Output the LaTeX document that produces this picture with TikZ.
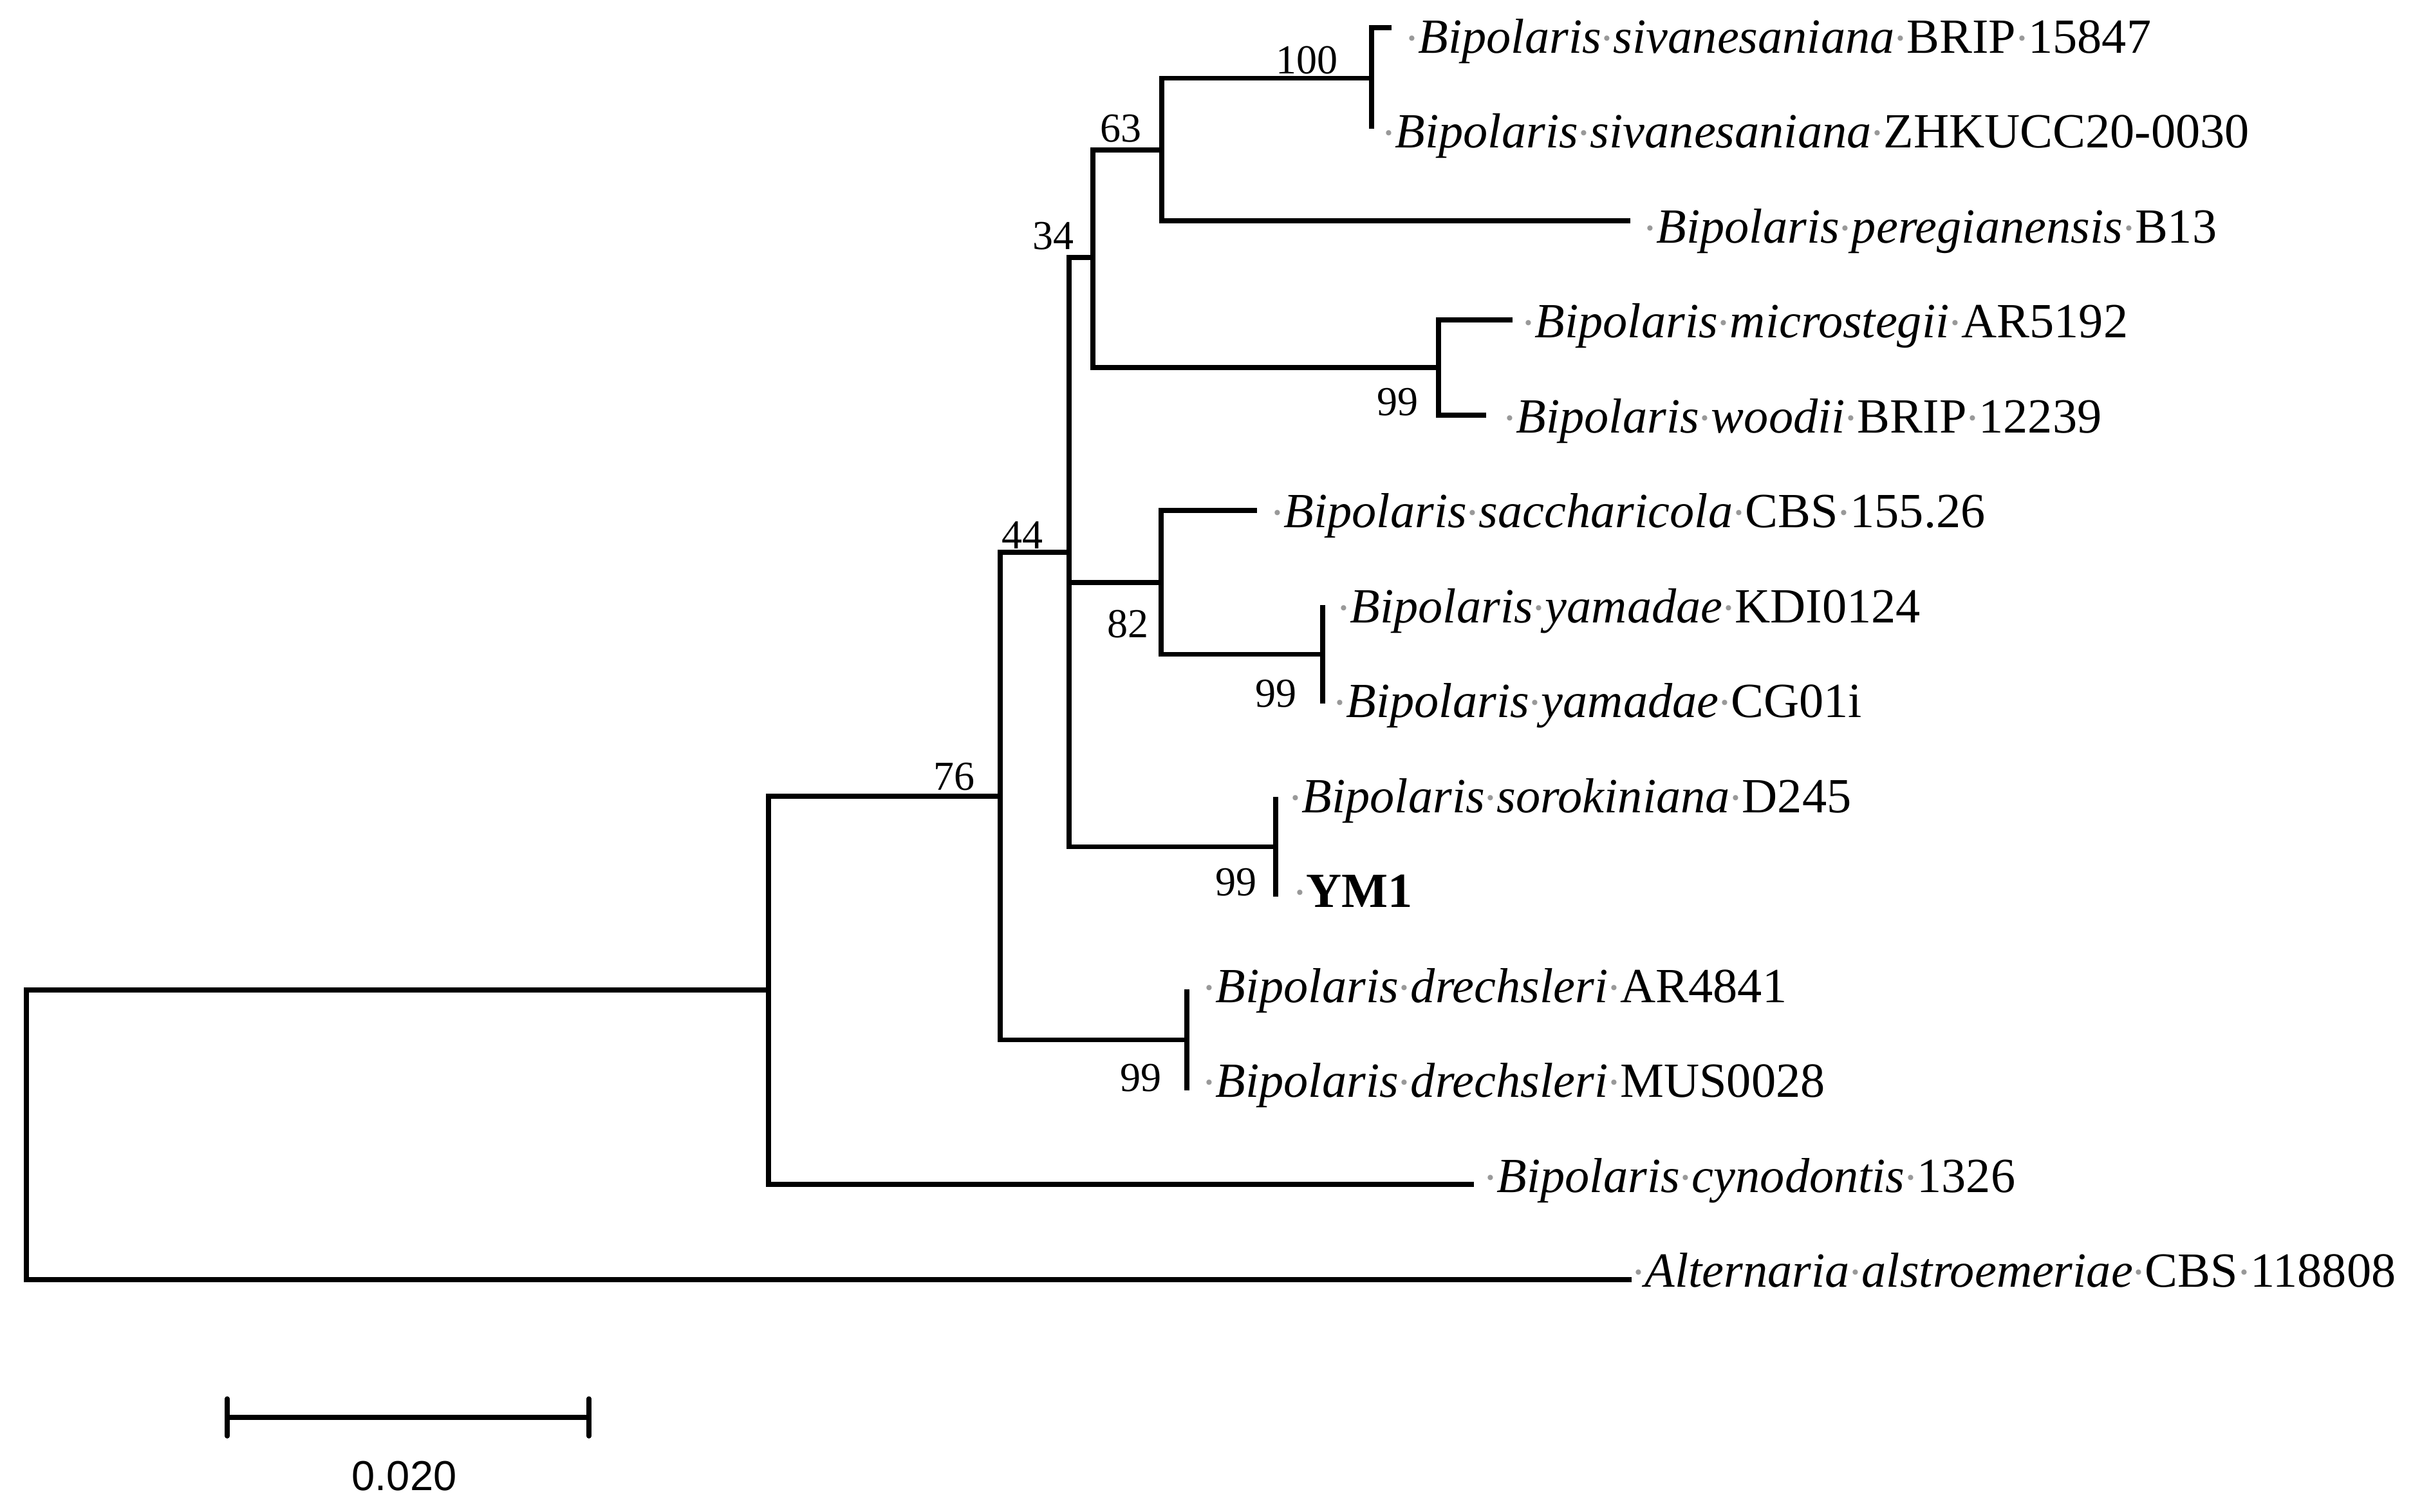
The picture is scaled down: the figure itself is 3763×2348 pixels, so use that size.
\documentclass[tikz,border=0pt]{standalone}
\usepackage{fontspec}
\usepackage{graphicx}
\setmainfont{Liberation Serif}
\newfontfamily\scalefont{Liberation Sans}
\newcommand{\gd}{\makebox[0.25em][c]{\textcolor{black!40}{\scalebox{0.9}{·}}}}
\begin{document}
\begin{tikzpicture}[x=0.01cm,y=-0.01cm,
  br/.style={line width=0.075cm,line join=miter},
  leaf/.style={anchor=base west,inner sep=0pt,font=\fontsize{21.7pt}{26pt}\selectfont},
  boot/.style={anchor=center,inner sep=0pt,font=\fontsize{18.2pt}{22pt}\selectfont}]
\useasboundingbox[fill=white] (0,0) rectangle (3763,2348);
% tips
\coordinate (t1) at (2162,43);
\coordinate (t2) at (2131,200);
\coordinate (t3) at (2533,343);
\coordinate (t4) at (2350,497);
\coordinate (t5) at (2309,645);
\coordinate (t6) at (1953,793);
\coordinate (t7) at (2055,940);
\coordinate (t8) at (2055,1093);
\coordinate (t9) at (1982,1238);
\coordinate (t10) at (1982,1393);
\coordinate (t11) at (1844,1537);
\coordinate (t12) at (1844,1694);
\coordinate (t13) at (2290,1840);
\coordinate (t14) at (2535,1988);
% internal nodes
\coordinate (n100) at (2131,121.5);
\coordinate (n63) at (1805,233);
\coordinate (nmic) at (2235,571);
\coordinate (n34) at (1698,400);
\coordinate (n82) at (1804,905);
\coordinate (nyam) at (2055,1016.5);
\coordinate (nsor) at (1982,1315.5);
\coordinate (n44) at (1661,858);
\coordinate (ndre) at (1844,1615.5);
\coordinate (n76) at (1554,1237);
\coordinate (ng) at (1194,1538);
\coordinate (nr) at (41,1763);
% branches
\draw[br] (t1) -| (n100) |- (t2);
\draw[br] (n100) -| (n63) |- (t3);
\draw[br] (t4) -| (nmic) |- (t5);
\draw[br] (n63) -| (n34) |- (nmic);
\draw[br] (t7) -| (nyam) |- (t8);
\draw[br] (t6) -| (n82) |- (nyam);
\draw[br] (t9) -| (nsor) |- (t10);
\draw[br] (n34) -| (n44) |- (nsor);
\draw[br] (n44 |- n82) -- (n82);
\draw[br] (t11) -| (ndre) |- (t12);
\draw[br] (n44) -| (n76) |- (ndre);
\draw[br] (n76) -| (ng) |- (t13);
\draw[br] (ng) -| (nr) |- (t14);
% leaf labels
\node[leaf] (l1) at (2184,82) {\gd\textit{Bipolaris}\gd\textit{sivanesaniana}\gd BRIP\gd 15847};
\node[leaf] (l2) at (2148,229.5) {\gd\textit{Bipolaris}\gd\textit{sivanesaniana}\gd ZHKUCC20-0030};
\node[leaf] (l3) at (2554,377) {\gd\textit{Bipolaris}\gd\textit{peregianensis}\gd B13};
\node[leaf] (l4) at (2365,524.5) {\gd\textit{Bipolaris}\gd\textit{microstegii}\gd AR5192};
\node[leaf] (l5) at (2336,672) {\gd\textit{Bipolaris}\gd\textit{woodii}\gd BRIP\gd 12239};
\node[leaf] (l6) at (1975,819.5) {\gd\textit{Bipolaris}\gd\textit{saccharicola}\gd CBS\gd 155.26};
\node[leaf] (l7) at (2078,967) {\gd\textit{Bipolaris}\gd\textit{yamadae}\gd KDI0124};
\node[leaf] (l8) at (2072,1114.5) {\gd\textit{Bipolaris}\gd\textit{yamadae}\gd CG01i};
\node[leaf] (l9) at (2003,1262) {\gd\textit{Bipolaris}\gd\textit{sorokiniana}\gd D245};
\node[leaf] (l10) at (2010,1409.5) {\gd\textbf{YM1}};
\node[leaf] (l11) at (1869,1557) {\gd\textit{Bipolaris}\gd\textit{drechsleri}\gd AR4841};
\node[leaf] (l12) at (1869,1704.5) {\gd\textit{Bipolaris}\gd\textit{drechsleri}\gd MUS0028};
\node[leaf] (l13) at (2306,1852) {\gd\textit{Bipolaris}\gd\textit{cynodontis}\gd 1326};
\node[leaf] (l14) at (2536,1999.5) {\gd\textit{Alternaria}\gd\textit{alstroemeriae}\gd CBS\gd 118808};
% bootstrap values
\node[boot] (b100) at (2030,94) {100};
\node[boot] (b63) at (1741,200) {63};
\node[boot] (b34) at (1636,367) {34};
\node[boot] (b99a) at (2171,625) {99};
\node[boot] (b44) at (1588,831) {44};
\node[boot] (b82) at (1752,970) {82};
\node[boot] (b99b) at (1982,1078) {99};
\node[boot] (b76) at (1482,1207) {76};
\node[boot] (b99c) at (1920,1371) {99};
\node[boot] (b99d) at (1772,1675) {99};
% scale bar
\coordinate (sb1) at (353,2202);
\coordinate (sb2) at (915,2202);
\draw[br] (sb1) -- (sb2);
\draw[line width=0.075cm,line cap=round] ([yshift=0.29cm]sb1) -- ([yshift=-0.29cm]sb1);
\draw[line width=0.075cm,line cap=round] ([yshift=0.29cm]sb2) -- ([yshift=-0.29cm]sb2);
\node[anchor=center,inner sep=0pt,font=\scalefont\fontsize{18.5pt}{22pt}\selectfont] (sbl) at (628,2293) {0.020};
\end{tikzpicture}
\end{document}
